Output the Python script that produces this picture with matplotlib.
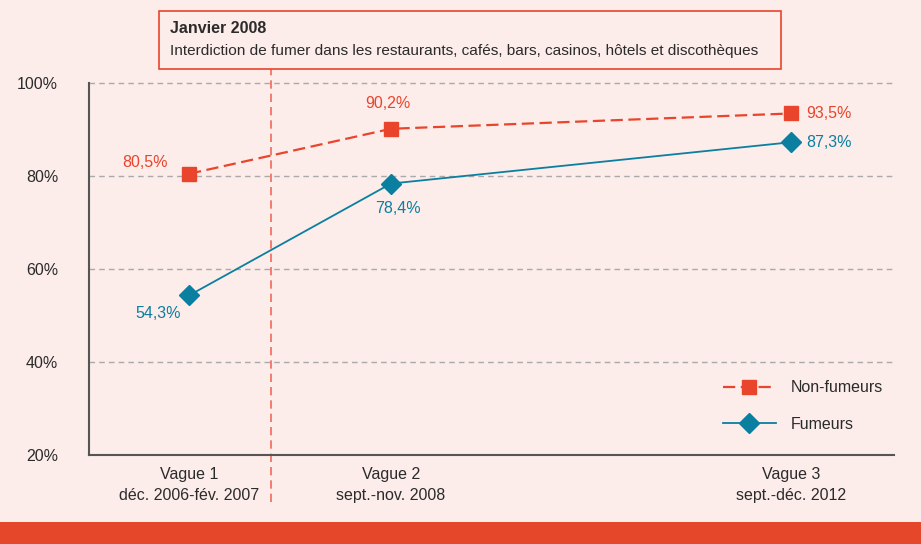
import matplotlib
matplotlib.use("Agg")
import matplotlib.pyplot as plt
from matplotlib.patches import Rectangle

plt.rcParams['font.family'] = ['Liberation Sans Narrow', 'Liberation Sans', 'DejaVu Sans']

categories = ["Vague 1\ndéc. 2006-fév. 2007", "Vague 2\nsept.-nov. 2008", "Vague 3\nsept.-déc. 2012"]
x_pos = [0, 1, 2.98]
non_fumeurs = [80.5, 90.2, 93.5]
fumeurs = [54.3, 78.4, 87.3]
nf_labels = ["80,5%", "90,2%", "93,5%"]
f_labels = ["54,3%", "78,4%", "87,3%"]
yticks = [20, 40, 60, 80, 100]
ytick_labels = ["20%", "40%", "60%", "80%", "100%"]
event_x = 0.404

BG = "#fcecea"
RED = "#e8452c"
TEAL = "#0a7fa0"
TXT = "#2b2b2b"

fig = plt.figure(figsize=(9.21, 5.44), dpi=100, facecolor=BG)
ax = fig.add_axes([0.0963, 0.1642, 0.8744, 0.6827])
ax.set_facecolor(BG)

ax.set_xlim(-0.497, 3.49)
ax.set_ylim(20, 100)

for y in [40, 60, 80, 100]:
    ax.axhline(y, color="#aaaaaa", lw=1.0, ls=(0, (4, 3)), zorder=1, clip_on=False)

ax.axvline(event_x, ymin=-0.127, ymax=1.0385, color="#f06a5a", lw=1.2,
           ls=(0, (5, 3)), clip_on=False, zorder=2)

ax.plot(x_pos, non_fumeurs, color=RED, lw=1.6, dashes=(5.5, 2.5), marker="s",
        markersize=10, markerfacecolor=RED, markeredgecolor=RED, label="Non-fumeurs", zorder=4)
ax.plot(x_pos, fumeurs, color=TEAL, lw=1.3, marker="D", markersize=10,
        markerfacecolor=TEAL, markeredgecolor=TEAL, label="Fumeurs", zorder=4)

fs = 11.5
# value labels
ax.annotate(nf_labels[0], (x_pos[0], non_fumeurs[0]), xytext=(-32, 8), textcoords="offset points",
            ha="center", va="center", color=RED, fontsize=fs)
ax.annotate(nf_labels[1], (x_pos[1], non_fumeurs[1]), xytext=(-2, 18), textcoords="offset points",
            ha="center", va="center", color=RED, fontsize=fs)
ax.annotate(nf_labels[2], (x_pos[2], non_fumeurs[2]), xytext=(11, 0), textcoords="offset points",
            ha="left", va="center", color=RED, fontsize=fs)
ax.annotate(f_labels[0], (x_pos[0], fumeurs[0]), xytext=(-22, -13), textcoords="offset points",
            ha="center", va="center", color=TEAL, fontsize=fs)
ax.annotate(f_labels[1], (x_pos[1], fumeurs[1]), xytext=(5, -18), textcoords="offset points",
            ha="center", va="center", color=TEAL, fontsize=fs)
ax.annotate(f_labels[2], (x_pos[2], fumeurs[2]), xytext=(11, 0), textcoords="offset points",
            ha="left", va="center", color=TEAL, fontsize=fs)

ax.set_yticks(yticks)
ax.set_yticklabels(ytick_labels)
ax.set_xticks(x_pos)
ax.set_xticklabels(categories, linespacing=1.45)
ax.tick_params(axis="y", length=0, pad=22, labelsize=fs, labelcolor=TXT)
ax.tick_params(axis="x", length=0, pad=9, labelsize=fs, labelcolor=TXT)

for s in ["top", "right"]:
    ax.spines[s].set_visible(False)
for s in ["left", "bottom"]:
    ax.spines[s].set_color("#555555")
    ax.spines[s].set_linewidth(1.5)
ax.spines["left"].set_bounds(20, 100)

leg = ax.legend(loc="upper left", bbox_to_anchor=(0.785, 0.301), bbox_transform=fig.transFigure,
                frameon=False, fontsize=fs, handlelength=3.3, handletextpad=0.95,
                labelspacing=1.35, borderpad=0, borderaxespad=0)
for t in leg.get_texts():
    t.set_color(TXT)

# annotation box
fig.patches.append(Rectangle((0.173, 0.8732), 0.6747, 0.106, transform=fig.transFigure,
                             facecolor=BG, edgecolor=RED, lw=1.2, zorder=5))
fig.text(0.1846, 0.9467, "Janvier 2008", fontsize=fs, fontweight="bold", color=TXT,
         va="center", ha="left", zorder=6)
fig.text(0.1846, 0.9062, "Interdiction de fumer dans les restaurants, cafés, bars, casinos, hôtels et discothèques",
         fontsize=11.1, color=TXT, va="center", ha="left", zorder=6)

# bottom band
fig.patches.append(Rectangle((0, 0), 1, 0.0404, transform=fig.transFigure,
                             facecolor="#e5472b", edgecolor="none", zorder=5))

fig.savefig("out.png", dpi=100, facecolor=BG)
